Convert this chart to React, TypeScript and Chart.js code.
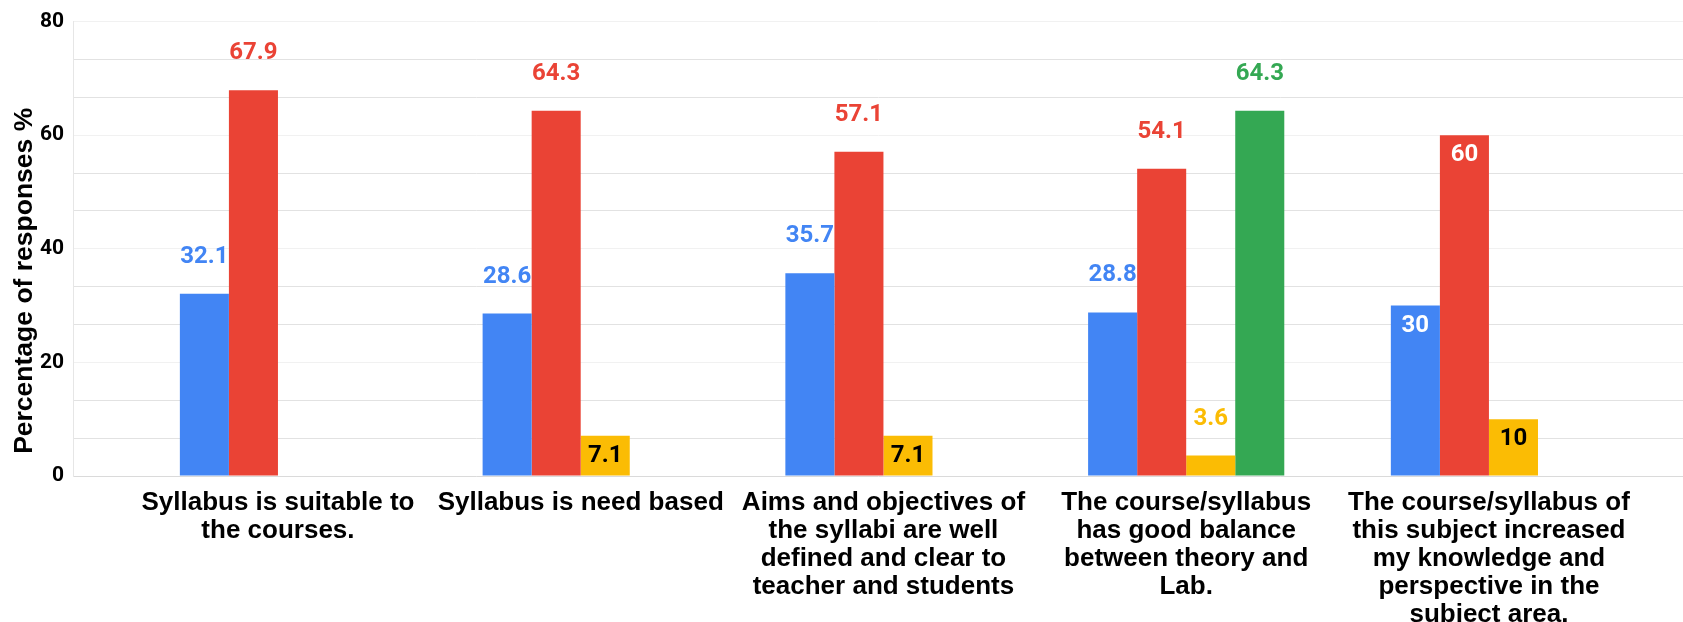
import React, { useEffect, useRef } from "react";
import { Chart, registerables } from "chart.js";

Chart.register(...registerables);

const CATEGORY_LINES: string[][] = [
  ["Syllabus is suitable to", "the courses."],
  ["Syllabus is need based"],
  ["Aims and objectives of", "the syllabi are well", "defined and clear to", "teacher and students"],
  ["The course/syllabus", "has good balance", "between theory and", "Lab."],
  ["The course/syllabus of", "this subject increased", "my knowledge and", "perspective in the", "subject area."],
];

const SERIES_NAMES = ["Series 1", "Series 2", "Series 3", "Series 4"];
const BLUE_VALUES: (number | null)[] = [32.1, 28.6, 35.7, 28.8, 30];
const RED_VALUES: (number | null)[] = [67.9, 64.3, 57.1, 54.1, 60];
const YELLOW_VALUES: (number | null)[] = [null, 7.1, 7.1, 3.6, 10];
const GREEN_VALUES: (number | null)[] = [null, null, null, 64.3, null];

// label placement: true = inside the bar top, false = above the bar
const BLUE_INSIDE = [false, false, false, false, true];
const RED_INSIDE = [false, false, false, false, true];
const YELLOW_INSIDE = [false, true, true, false, true];
const GREEN_INSIDE = [false, false, false, false, false];

const Y_TICK_VALUES = [0, 20, 40, 60, 80];
const Y_TITLE = "Percentage of responses %";

const COLORS = ["#4285F4", "#EA4335", "#FBBC04", "#34A853"];
const INSIDE_TEXT = ["#ffffff", "#ffffff", "#000000", "#ffffff"];

export default function App() {
  const ref = useRef<HTMLCanvasElement | null>(null);

  useEffect(() => {
    document.body.style.margin = "0";
    const canvas = ref.current;
    if (!canvas) return;

    const allValues = [BLUE_VALUES, RED_VALUES, YELLOW_VALUES, GREEN_VALUES];
    const insideFlags = [BLUE_INSIDE, RED_INSIDE, YELLOW_INSIDE, GREEN_INSIDE];

    const datasets = allValues.map((vals, s) => ({
      label: SERIES_NAMES[s],
      data: vals.map((v, i) => ({ x: i, y: v })),
      backgroundColor: COLORS[s],
      borderWidth: 0,
      categoryPercentage: 0.648,
      barPercentage: 1,
    }));

    const minorStep = 20 / 3;
    const gridValues: number[] = [];
    for (let k = 0; k <= 12; k++) gridValues.push(k * minorStep);

    const labelPlugin = {
      id: "barLabels",
      afterDatasetsDraw(chart: any) {
        const ctx = chart.ctx;
        ctx.save();
        ctx.font = "bold 24px Roboto";
        ctx.textAlign = "center";
        ctx.textBaseline = "middle";
        chart.data.datasets.forEach((ds: any, s: number) => {
          const meta = chart.getDatasetMeta(s);
          meta.data.forEach((el: any, j: number) => {
            const v = ds.data[j].y;
            if (v == null) return;
            const inside = insideFlags[s][j];
            ctx.fillStyle = inside ? INSIDE_TEXT[s] : COLORS[s];
            const y = inside ? el.y + 20 : el.y - 37;
            ctx.fillText(String(v), el.x, y);
          });
        });
        ctx.restore();
      },
    };

    const yTitlePlugin = {
      id: "yTitle",
      afterDraw(chart: any) {
        const ctx = chart.ctx;
        const area = chart.chartArea;
        ctx.save();
        ctx.translate(25, (area.top + area.bottom) / 2 + 32);
        ctx.rotate(-Math.PI / 2);
        ctx.font = "bold 26.5px 'Liberation Sans', Arial, sans-serif";
        ctx.fillStyle = "#000000";
        ctx.textAlign = "center";
        ctx.textBaseline = "middle";
        ctx.fillText(Y_TITLE, 0, 0);
        ctx.restore();
      },
    };

    const chart = new Chart(canvas, {
      type: "bar",
      data: { datasets: datasets as any },
      plugins: [labelPlugin, yTitlePlugin],
      options: {
        animation: false,
        responsive: false,
        devicePixelRatio: 1,
        layout: { padding: { top: 17, right: 0, bottom: 0, left: 0 } },
        plugins: {
          legend: { display: false },
          tooltip: { enabled: false },
        },
        scales: {
          x: {
            type: "linear",
            min: -0.677,
            max: 4.641,
            offset: false,
            grid: { display: false, drawTicks: false },
            border: { display: false },
            afterBuildTicks: (scale: any) => {
              scale.ticks = CATEGORY_LINES.map((_, i) => ({ value: i }));
            },
            afterFit: (scale: any) => {
              scale.height = 146;
            },
            ticks: {
              autoSkip: false,
              maxRotation: 0,
              minRotation: 0,
              padding: 13,
              color: "#000000",
              font: { family: "'Liberation Sans', Arial, sans-serif", size: 26, weight: "bold", lineHeight: "28px" },
              callback: (value: any) => CATEGORY_LINES[Math.round(Number(value))] as any,
            },
          },
          y: {
            type: "linear",
            min: 0,
            max: 80,
            afterBuildTicks: (scale: any) => {
              scale.ticks = gridValues.map((v) => ({ value: v }));
            },
            afterFit: (scale: any) => {
              scale.width = 73;
            },
            grid: {
              drawTicks: false,
              color: (c: any) => {
                if (c.index === 0) return "#dadada";
                return c.index % 3 === 0 ? "#f1f1f1" : "#e2e2e2";
              },
            },
            border: { display: true, color: "#e6e6e6" },
            ticks: {
              padding: 9,
              color: "#000000",
              font: { family: "Roboto", size: 21, weight: "bold" },
              callback: (value: any) => {
                const r = Math.round(Number(value) * 1000) / 1000;
                return Y_TICK_VALUES.includes(r) ? String(r) : "";
              },
            },
          },
        },
      },
    });

    return () => chart.destroy();
  }, []);

  return (
    <div style={{ width: 1683, height: 622 }}>
      <canvas ref={ref} width={1683} height={622} />
    </div>
  );
}
